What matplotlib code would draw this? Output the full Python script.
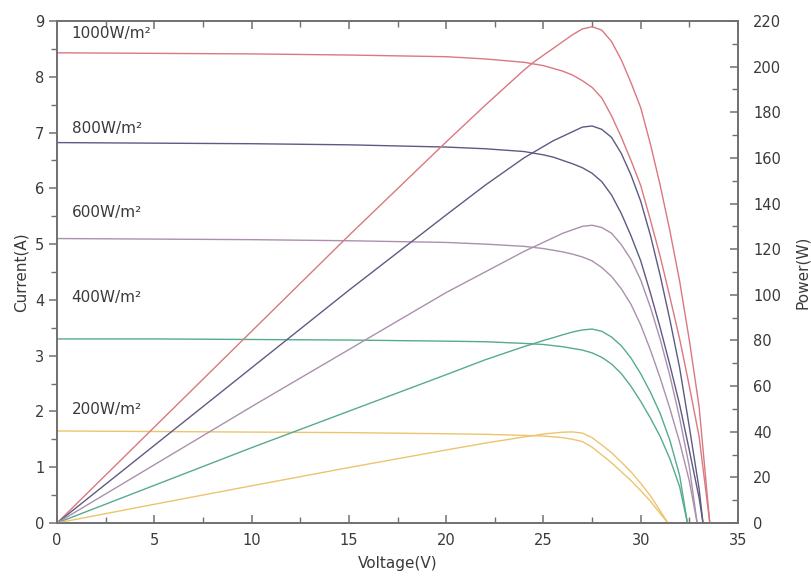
import numpy as np
import matplotlib.pyplot as plt
from matplotlib.ticker import MultipleLocator

plt.rcParams['font.family'] = ['DejaVu Sans']

# irradiance levels and the values
labels = ['1000W/m²', '800W/m²', '600W/m²', '400W/m²', '200W/m²']
colors = ['#da7880', '#5e5a84', '#ab90ad', '#56ab8e', '#ecc46e']

v_1000 = [0, 5, 10, 15, 20, 22, 24, 24.5, 25, 25.5, 26, 26.5, 27, 27.5, 28, 28.5, 29, 29.5, 30, 30.5, 31, 31.5, 32, 32.5, 33, 33.55]
i_1000 = [8.43, 8.42, 8.41, 8.39, 8.36, 8.32, 8.26, 8.23, 8.20, 8.15, 8.10, 8.03, 7.93, 7.81, 7.62, 7.30, 6.92, 6.50, 6.05, 5.43, 4.78, 4.05, 3.30, 2.45, 1.55, 0]
p_1000 = [0, 42, 84, 126, 167, 183, 198.5, 202, 205, 208, 211, 214, 216.5, 217.5, 216, 211, 203, 193, 182, 166, 148, 128, 106, 80, 51, 0]

v_800 = [0, 5, 10, 15, 20, 22, 24, 24.5, 25, 25.5, 26, 26.5, 27, 27.5, 28, 28.5, 29, 29.5, 30, 30.5, 31, 31.5, 32, 32.5, 33, 33.2]
i_800 = [6.82, 6.81, 6.80, 6.78, 6.74, 6.71, 6.66, 6.63, 6.60, 6.56, 6.50, 6.44, 6.37, 6.27, 6.12, 5.88, 5.55, 5.15, 4.70, 4.12, 3.50, 2.83, 2.12, 1.30, 0.45, 0]
p_800 = [0, 34, 68, 102, 135, 148, 160, 162.5, 165, 167.5, 169.5, 171.5, 173.5, 174, 172.5, 169, 162, 152.5, 141, 126, 108.5, 89, 68, 42, 15, 0]

v_600 = [0, 5, 10, 15, 20, 22, 24, 24.5, 25, 25.5, 26, 26.5, 27, 27.5, 28, 28.5, 29, 29.5, 30, 30.5, 31, 31.5, 32, 32.5, 32.9]
i_600 = [5.10, 5.09, 5.08, 5.06, 5.03, 5.00, 4.96, 4.94, 4.92, 4.89, 4.86, 4.82, 4.77, 4.70, 4.58, 4.42, 4.20, 3.92, 3.55, 3.10, 2.60, 2.05, 1.45, 0.75, 0]
p_600 = [0, 25.5, 51, 76, 101, 110, 119, 121, 123, 125, 127, 128.5, 130, 130.5, 129.5, 127, 122, 115.5, 106.5, 94.5, 80.5, 64.5, 46, 24.5, 0]

v_400 = [0, 5, 10, 15, 20, 22, 24, 24.5, 25, 25.5, 26, 26.5, 27, 27.5, 28, 28.5, 29, 29.5, 30, 30.5, 31, 31.5, 32, 32.4]
i_400 = [3.30, 3.30, 3.29, 3.28, 3.26, 3.25, 3.22, 3.21, 3.20, 3.18, 3.16, 3.13, 3.10, 3.05, 2.97, 2.85, 2.68, 2.45, 2.18, 1.88, 1.55, 1.15, 0.65, 0]
p_400 = [0, 16.5, 33, 49, 65, 71.5, 77.3, 78.6, 80, 81.2, 82.5, 83.7, 84.6, 85, 84, 81.5, 77.7, 72.3, 65.4, 57.3, 48, 36.2, 20.8, 0]

v_200 = [0, 5, 10, 15, 20, 22, 24, 24.5, 25, 25.5, 26, 26.5, 27, 27.5, 28, 28.5, 29, 29.5, 30, 30.5, 31, 31.4]
i_200 = [1.65, 1.64, 1.63, 1.62, 1.60, 1.59, 1.57, 1.565, 1.56, 1.545, 1.53, 1.50, 1.46, 1.36, 1.22, 1.08, 0.92, 0.76, 0.58, 0.39, 0.17, 0]
p_200 = [0, 8.2, 16.3, 24.3, 32, 35, 37.7, 38.3, 39, 39.4, 39.8, 39.9, 39.4, 37.4, 34.2, 30.8, 26.7, 22.4, 17.4, 11.9, 5.3, 0]

volts = [v_1000, v_800, v_600, v_400, v_200]
currents = [i_1000, i_800, i_600, i_400, i_200]
powers = [p_1000, p_800, p_600, p_400, p_200]
label_y = [8.78, 7.08, 5.56, 4.05, 2.03]

fig = plt.figure(figsize=(8.11, 5.77), dpi=100)
ax = fig.add_axes([0.0703, 0.0936, 0.8397, 0.8700])
ax2 = ax.twinx()

for vv, ii, pp, c, lab, ly in zip(volts, currents, powers, colors, labels, label_y):
    ax.plot(vv, ii, color=c, lw=1.0)
    ax2.plot(vv, pp, color=c, lw=1.0)
    ax.text(0.75, ly, lab, fontsize=11, color='#3a3a3a', va='center')

ax.set_xlim(0, 35)
ax.set_ylim(0, 9)
ax2.set_ylim(0, 220)

ax.xaxis.set_major_locator(MultipleLocator(5))
ax.xaxis.set_minor_locator(MultipleLocator(2.5))
ax.yaxis.set_major_locator(MultipleLocator(1))
ax.yaxis.set_minor_locator(MultipleLocator(0.5))
ax2.yaxis.set_major_locator(MultipleLocator(20))
ax2.yaxis.set_minor_locator(MultipleLocator(10))

gray = '#707070'
txt = '#3a3a3a'
for a in (ax, ax2):
    for s in a.spines.values():
        s.set_color(gray)
        s.set_linewidth(1.2)
ax.tick_params(axis='x', which='both', direction='in', top=True, color=gray,
               labelsize=10.5, labelcolor=txt, pad=7)
ax.tick_params(axis='x', which='major', length=6, width=1.1)
ax.tick_params(axis='x', which='minor', length=4, width=1.0)
ax.tick_params(axis='y', which='both', direction='out', color=gray,
               labelsize=10.5, labelcolor=txt, pad=3)
ax.tick_params(axis='y', which='major', length=6, width=1.1)
ax.tick_params(axis='y', which='minor', length=4, width=1.0)
ax2.tick_params(axis='y', which='both', direction='in', color=gray,
                labelsize=10.5, labelcolor=txt, pad=11)
ax2.tick_params(axis='y', which='major', length=6, width=1.1)
ax2.tick_params(axis='y', which='minor', length=4, width=1.0)

ax.set_xlabel('Voltage(V)', fontsize=11, color=txt, labelpad=6)
ax.set_ylabel('Current(A)', fontsize=11, color=txt, labelpad=5)
ax2.set_ylabel('Power(W)', fontsize=11, color=txt, labelpad=10)

fig.savefig('out.png', dpi=100)
